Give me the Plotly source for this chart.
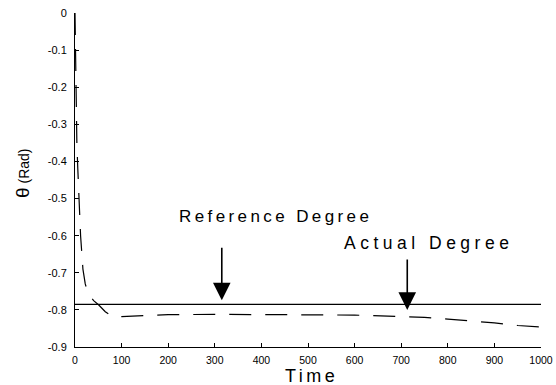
import plotly.graph_objects as go

# Data
time = [0, 1, 2, 4, 6, 8.5, 12, 17, 22, 28, 40, 51, 65, 80, 90, 100, 150, 200,
        300, 400, 500, 600, 700, 750, 800, 850, 900, 950, 1000]
actual = [0.0, -0.12, -0.25, -0.35, -0.42, -0.5, -0.6, -0.69, -0.73, -0.755,
          -0.775, -0.787, -0.805, -0.818, -0.82, -0.818, -0.815, -0.813,
          -0.812, -0.813, -0.813, -0.814, -0.818, -0.82, -0.825, -0.83,
          -0.835, -0.842, -0.846]
ref_time = [0, 1000]
reference = [-0.785, -0.785]

x_ticks = [0, 100, 200, 300, 400, 500, 600, 700, 800, 900, 1000]
y_ticks = [0, -0.1, -0.2, -0.3, -0.4, -0.5, -0.6, -0.7, -0.8, -0.9]
y_ticktext = ["0", "-0.1", "-0.2", "-0.3", "-0.4", "-0.5", "-0.6", "-0.7", "-0.8", "-0.9"]

FONT = "Liberation Sans, Arial, sans-serif"

fig = go.Figure()
fig.add_trace(go.Scatter(x=ref_time, y=reference, mode="lines",
                         line=dict(color="black", width=1.2), showlegend=False))
fig.add_trace(go.Scatter(x=time, y=actual, mode="lines",
                         line=dict(color="black", width=1.2, dash="22px,14px"),
                         showlegend=False))

def spaced(t, sp):
    return f"<span style='letter-spacing:{sp}px'>{t}</span>"

anns = [
    # arrows
    dict(x=315, y=-0.774, xref="x", yref="y", ax=0, ay=-54, text="",
         showarrow=True, arrowhead=2, arrowsize=2.2, arrowwidth=1.6, arrowcolor="black"),
    dict(x=713, y=-0.80, xref="x", yref="y", ax=0, ay=-52, text="",
         showarrow=True, arrowhead=2, arrowsize=2.2, arrowwidth=1.6, arrowcolor="black"),
    # labels
    dict(x=275, y=216, xref="x", yref="y", text=spaced("Reference Degree", 3.4),
         showarrow=False, font=dict(size=17, color="black", family=FONT)),
    dict(x=428, y=243, xref="x", yref="y", text=spaced("Actual Degree", 4.5),
         showarrow=False, font=dict(size=17.5, color="black", family=FONT)),
    dict(x=311, y=376, text=spaced("Time", 3.5), showarrow=False,
         font=dict(size=18, color="black", family=FONT)),
    dict(x=22, y=174, text="<span style='font-size:19px'>θ</span> (Rad)",
         textangle=-90, showarrow=False,
         font=dict(size=14, color="black", family=FONT)),
]
# convert pixel positions for label annotations to data / paper coordinates
L, R, T, B = 75, 541, 13, 347
for a in anns[2:4]:
    a["x"] = (a["x"] - L) / (R - L) * 1000
    a["y"] = -(a["y"] - T) / (B - T) * 0.9
for a in anns[2:]:
    a["xanchor"] = "center"; a["yanchor"] = "middle"
for a in anns[4:]:
    a["xref"] = "paper"; a["yref"] = "paper"
    a["x"] = (a["x"] - L) / (R - L)
    a["y"] = 1 - (a["y"] - T) / (B - T)

fig.update_layout(
    width=556, height=385,
    margin=dict(l=L, r=556 - R, t=T, b=385 - B),
    paper_bgcolor="white", plot_bgcolor="white",
    font=dict(family=FONT, size=11, color="black"),
    annotations=anns,
    xaxis=dict(range=[0, 1000], tickvals=x_ticks, ticks="inside", ticklen=4,
               tickcolor="black", showline=True, linecolor="black", linewidth=1,
               showgrid=False, zeroline=False, tickfont=dict(size=10.5),
               ticklabelstandoff=3, automargin=False),
    yaxis=dict(range=[-0.9, 0], tickvals=y_ticks, ticktext=y_ticktext,
               ticks="inside", ticklen=4, tickcolor="black", showline=True,
               linecolor="black", linewidth=1, showgrid=False, zeroline=False,
               tickfont=dict(size=11), ticklabelstandoff=5, automargin=False),
)

fig.write_html("out.html")
